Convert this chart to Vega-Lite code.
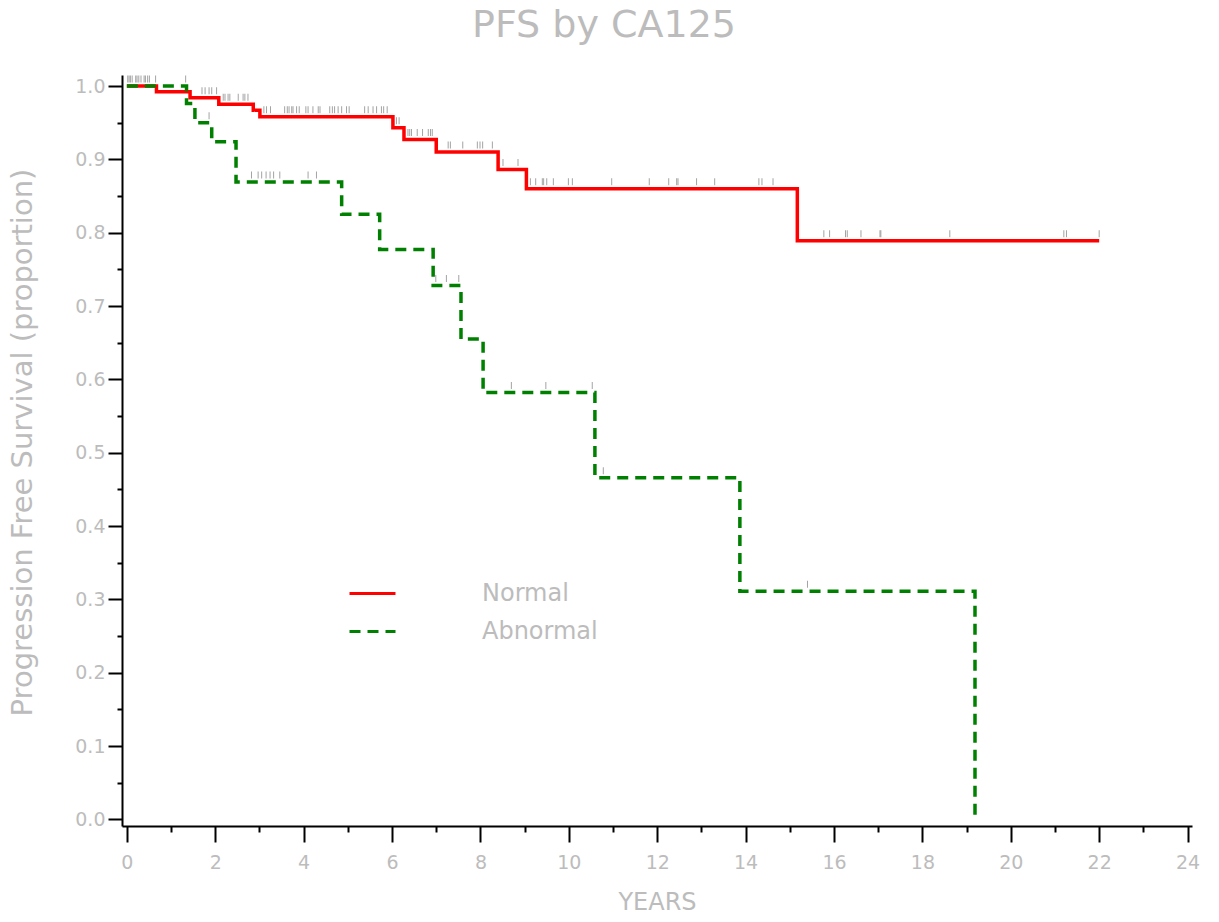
{
  "$schema": "https://vega.github.io/schema/vega-lite/v6.json",
  "width": 1070,
  "height": 751,
  "autosize": {"type": "none"},
  "padding": {"left": 122, "top": 75, "right": 27, "bottom": 96},
  "background": "white",
  "title": {
    "text": "PFS by CA125",
    "font": "DejaVu Sans",
    "fontSize": 38,
    "fontWeight": "normal",
    "color": "#bcbcbc",
    "anchor": "middle",
    "frame": "group",
    "dx": -53,
    "baseline": "alphabetic",
    "offset": 0
  },
  "config": {
    "view": {"stroke": null},
    "axis": {
      "grid": false,
      "labelFont": "DejaVu Sans",
      "labelFontSize": 19,
      "labelColor": "#bcbcbc",
      "titleFont": "DejaVu Sans",
      "titleFontWeight": "normal",
      "titleColor": "#bcbcbc",
      "domainColor": "black",
      "domainWidth": 2,
      "tickColor": "black",
      "tickWidth": 2
    },
    "legend": {
      "labelFont": "DejaVu Sans",
      "labelFontSize": 24,
      "labelColor": "#bcbcbc"
    }
  },
  "datasets": {
    "curves": [
      {"group": "Normal", "t": 0, "s": 1.0},
      {"group": "Normal", "t": 0.67, "s": 0.992},
      {"group": "Normal", "t": 1.43, "s": 0.984},
      {"group": "Normal", "t": 2.08, "s": 0.975},
      {"group": "Normal", "t": 2.86, "s": 0.967},
      {"group": "Normal", "t": 3.01, "s": 0.958},
      {"group": "Normal", "t": 6.02, "s": 0.943},
      {"group": "Normal", "t": 6.27, "s": 0.927},
      {"group": "Normal", "t": 7.0, "s": 0.91},
      {"group": "Normal", "t": 8.4, "s": 0.886},
      {"group": "Normal", "t": 9.04, "s": 0.86},
      {"group": "Normal", "t": 15.17, "s": 0.789},
      {"group": "Normal", "t": 22.0, "s": 0.789},
      {"group": "Abnormal", "t": 0, "s": 1.0},
      {"group": "Abnormal", "t": 1.35, "s": 0.976},
      {"group": "Abnormal", "t": 1.54, "s": 0.95},
      {"group": "Abnormal", "t": 1.92, "s": 0.924},
      {"group": "Abnormal", "t": 2.47, "s": 0.869},
      {"group": "Abnormal", "t": 4.86, "s": 0.825},
      {"group": "Abnormal", "t": 5.72, "s": 0.777},
      {"group": "Abnormal", "t": 6.93, "s": 0.728},
      {"group": "Abnormal", "t": 7.56, "s": 0.655},
      {"group": "Abnormal", "t": 8.06, "s": 0.582},
      {"group": "Abnormal", "t": 10.59, "s": 0.466},
      {"group": "Abnormal", "t": 13.87, "s": 0.311},
      {"group": "Abnormal", "t": 19.19, "s": 0.0}
    ],
    "censored": [
      {"group": "Normal", "t": 0.02, "s": 1.0},
      {"group": "Normal", "t": 0.05, "s": 1.0},
      {"group": "Normal", "t": 0.08, "s": 1.0},
      {"group": "Normal", "t": 0.12, "s": 1.0},
      {"group": "Normal", "t": 0.2, "s": 1.0},
      {"group": "Normal", "t": 0.23, "s": 1.0},
      {"group": "Normal", "t": 0.27, "s": 1.0},
      {"group": "Normal", "t": 0.32, "s": 1.0},
      {"group": "Normal", "t": 0.39, "s": 1.0},
      {"group": "Normal", "t": 0.42, "s": 1.0},
      {"group": "Normal", "t": 0.47, "s": 1.0},
      {"group": "Normal", "t": 0.51, "s": 1.0},
      {"group": "Normal", "t": 0.65, "s": 1.0},
      {"group": "Normal", "t": 1.7, "s": 0.984},
      {"group": "Normal", "t": 1.77, "s": 0.984},
      {"group": "Normal", "t": 1.86, "s": 0.984},
      {"group": "Normal", "t": 1.92, "s": 0.984},
      {"group": "Normal", "t": 2.03, "s": 0.984},
      {"group": "Normal", "t": 2.18, "s": 0.975},
      {"group": "Normal", "t": 2.22, "s": 0.975},
      {"group": "Normal", "t": 2.29, "s": 0.975},
      {"group": "Normal", "t": 2.33, "s": 0.975},
      {"group": "Normal", "t": 2.52, "s": 0.975},
      {"group": "Normal", "t": 2.63, "s": 0.975},
      {"group": "Normal", "t": 2.67, "s": 0.975},
      {"group": "Normal", "t": 2.74, "s": 0.975},
      {"group": "Normal", "t": 3.1, "s": 0.958},
      {"group": "Normal", "t": 3.16, "s": 0.958},
      {"group": "Normal", "t": 3.25, "s": 0.958},
      {"group": "Normal", "t": 3.57, "s": 0.958},
      {"group": "Normal", "t": 3.63, "s": 0.958},
      {"group": "Normal", "t": 3.67, "s": 0.958},
      {"group": "Normal", "t": 3.73, "s": 0.958},
      {"group": "Normal", "t": 3.76, "s": 0.958},
      {"group": "Normal", "t": 3.84, "s": 0.958},
      {"group": "Normal", "t": 3.9, "s": 0.958},
      {"group": "Normal", "t": 4.05, "s": 0.958},
      {"group": "Normal", "t": 4.1, "s": 0.958},
      {"group": "Normal", "t": 4.21, "s": 0.958},
      {"group": "Normal", "t": 4.33, "s": 0.958},
      {"group": "Normal", "t": 4.37, "s": 0.958},
      {"group": "Normal", "t": 4.59, "s": 0.958},
      {"group": "Normal", "t": 4.65, "s": 0.958},
      {"group": "Normal", "t": 4.7, "s": 0.958},
      {"group": "Normal", "t": 4.78, "s": 0.958},
      {"group": "Normal", "t": 4.86, "s": 0.958},
      {"group": "Normal", "t": 4.97, "s": 0.958},
      {"group": "Normal", "t": 5.03, "s": 0.958},
      {"group": "Normal", "t": 5.38, "s": 0.958},
      {"group": "Normal", "t": 5.46, "s": 0.958},
      {"group": "Normal", "t": 5.57, "s": 0.958},
      {"group": "Normal", "t": 5.65, "s": 0.958},
      {"group": "Normal", "t": 5.76, "s": 0.958},
      {"group": "Normal", "t": 5.81, "s": 0.958},
      {"group": "Normal", "t": 5.89, "s": 0.958},
      {"group": "Normal", "t": 6.1, "s": 0.943},
      {"group": "Normal", "t": 6.16, "s": 0.943},
      {"group": "Normal", "t": 6.36, "s": 0.927},
      {"group": "Normal", "t": 6.4, "s": 0.927},
      {"group": "Normal", "t": 6.44, "s": 0.927},
      {"group": "Normal", "t": 6.57, "s": 0.927},
      {"group": "Normal", "t": 6.69, "s": 0.927},
      {"group": "Normal", "t": 6.82, "s": 0.927},
      {"group": "Normal", "t": 6.87, "s": 0.927},
      {"group": "Normal", "t": 6.91, "s": 0.927},
      {"group": "Normal", "t": 7.27, "s": 0.91},
      {"group": "Normal", "t": 7.32, "s": 0.91},
      {"group": "Normal", "t": 7.6, "s": 0.91},
      {"group": "Normal", "t": 7.93, "s": 0.91},
      {"group": "Normal", "t": 7.99, "s": 0.91},
      {"group": "Normal", "t": 8.05, "s": 0.91},
      {"group": "Normal", "t": 8.27, "s": 0.91},
      {"group": "Normal", "t": 8.51, "s": 0.886},
      {"group": "Normal", "t": 8.85, "s": 0.886},
      {"group": "Normal", "t": 9.13, "s": 0.86},
      {"group": "Normal", "t": 9.25, "s": 0.86},
      {"group": "Normal", "t": 9.4, "s": 0.86},
      {"group": "Normal", "t": 9.43, "s": 0.86},
      {"group": "Normal", "t": 9.5, "s": 0.86},
      {"group": "Normal", "t": 9.65, "s": 0.86},
      {"group": "Normal", "t": 9.99, "s": 0.86},
      {"group": "Normal", "t": 10.08, "s": 0.86},
      {"group": "Normal", "t": 10.97, "s": 0.86},
      {"group": "Normal", "t": 11.82, "s": 0.86},
      {"group": "Normal", "t": 12.26, "s": 0.86},
      {"group": "Normal", "t": 12.44, "s": 0.86},
      {"group": "Normal", "t": 12.47, "s": 0.86},
      {"group": "Normal", "t": 12.89, "s": 0.86},
      {"group": "Normal", "t": 13.3, "s": 0.86},
      {"group": "Normal", "t": 14.3, "s": 0.86},
      {"group": "Normal", "t": 14.37, "s": 0.86},
      {"group": "Normal", "t": 14.62, "s": 0.86},
      {"group": "Normal", "t": 15.77, "s": 0.789},
      {"group": "Normal", "t": 15.9, "s": 0.789},
      {"group": "Normal", "t": 16.26, "s": 0.789},
      {"group": "Normal", "t": 16.3, "s": 0.789},
      {"group": "Normal", "t": 16.61, "s": 0.789},
      {"group": "Normal", "t": 17.04, "s": 0.789},
      {"group": "Normal", "t": 17.06, "s": 0.789},
      {"group": "Normal", "t": 18.62, "s": 0.789},
      {"group": "Normal", "t": 21.2, "s": 0.789},
      {"group": "Normal", "t": 21.26, "s": 0.789},
      {"group": "Normal", "t": 22.0, "s": 0.789},
      {"group": "Abnormal", "t": 1.33, "s": 1.0},
      {"group": "Abnormal", "t": 1.86, "s": 0.95},
      {"group": "Abnormal", "t": 2.82, "s": 0.869},
      {"group": "Abnormal", "t": 2.97, "s": 0.869},
      {"group": "Abnormal", "t": 3.05, "s": 0.869},
      {"group": "Abnormal", "t": 3.15, "s": 0.869},
      {"group": "Abnormal", "t": 3.24, "s": 0.869},
      {"group": "Abnormal", "t": 3.32, "s": 0.869},
      {"group": "Abnormal", "t": 3.46, "s": 0.869},
      {"group": "Abnormal", "t": 4.1, "s": 0.869},
      {"group": "Abnormal", "t": 4.29, "s": 0.869},
      {"group": "Abnormal", "t": 6.99, "s": 0.728},
      {"group": "Abnormal", "t": 7.23, "s": 0.728},
      {"group": "Abnormal", "t": 7.51, "s": 0.728},
      {"group": "Abnormal", "t": 8.7, "s": 0.582},
      {"group": "Abnormal", "t": 9.48, "s": 0.582},
      {"group": "Abnormal", "t": 10.53, "s": 0.582},
      {"group": "Abnormal", "t": 10.78, "s": 0.466},
      {"group": "Abnormal", "t": 15.4, "s": 0.311}
    ]
  },
  "resolve": {"axis": {"x": "independent", "y": "independent"}},
  "layer": [
    {
      "data": {"name": "censored"},
      "mark": {"type": "tick", "orient": "vertical", "opacity": 0},
      "encoding": {
        "x": {
          "field": "t",
          "type": "quantitative",
          "scale": {"domain": [-0.11, 24.1], "nice": false, "zero": false},
          "axis": {
            "orient": "bottom",
            "values": [1, 3, 5, 7, 9, 11, 13, 15, 17, 19, 21, 23],
            "ticks": true,
            "tickSize": 6,
            "labels": false,
            "domain": false,
            "title": null
          }
        },
        "y": {
          "field": "s",
          "type": "quantitative",
          "scale": {"domain": [-0.009, 1.015], "nice": false, "zero": false},
          "axis": {
            "orient": "left",
            "values": [0.05, 0.15, 0.25, 0.35, 0.45, 0.55, 0.65, 0.75, 0.85, 0.95],
            "ticks": true,
            "tickSize": 5,
            "labels": false,
            "domain": false,
            "title": null
          }
        }
      }
    },
    {
      "data": {"name": "curves"},
      "mark": {"type": "line", "interpolate": "step-after", "strokeWidth": 3.5},
      "encoding": {
        "x": {
          "field": "t",
          "type": "quantitative",
          "axis": {
            "orient": "bottom",
            "values": [0, 2, 4, 6, 8, 10, 12, 14, 16, 18, 20, 22, 24],
            "ticks": true,
            "tickSize": 16,
            "labelPadding": 11,
            "offset": 0,
            "title": "YEARS",
            "titleFontSize": 24,
            "titleY": 76,
            "titleBaseline": "middle"
          }
        },
        "y": {
          "field": "s",
          "type": "quantitative",
          "axis": {
            "orient": "left",
            "values": [0, 0.1, 0.2, 0.3, 0.4, 0.5, 0.6, 0.7, 0.8, 0.9, 1.0],
            "format": ".1f",
            "ticks": true,
            "tickSize": 14,
            "labelPadding": 3,
            "offset": 0,
            "title": "Progression Free Survival (proportion)",
            "titleFontSize": 29,
            "titleAngle": -90,
            "titleX": -100,
            "titleY": 367,
            "titleAlign": "center",
            "titleBaseline": "middle"
          }
        },
        "color": {
          "field": "group",
          "type": "nominal",
          "scale": {"domain": ["Normal", "Abnormal"], "range": ["#ff0000", "#008000"]},
          "legend": {
            "title": null,
            "orient": "none",
            "legendX": 226,
            "legendY": 494,
            "padding": 0,
            "symbolType": "stroke",
            "symbolSize": 2116,
            "symbolStrokeWidth": 3,
            "labelOffset": 85,
            "rowPadding": 1
          }
        },
        "strokeDash": {
          "field": "group",
          "type": "nominal",
          "scale": {"domain": ["Normal", "Abnormal"], "range": [[1, 0], [11, 7]]},
          "legend": {
            "title": null,
            "orient": "none",
            "legendX": 226,
            "legendY": 494,
            "padding": 0,
            "symbolType": "stroke",
            "symbolSize": 2116,
            "symbolStrokeWidth": 3,
            "labelOffset": 85,
            "rowPadding": 1
          }
        }
      }
    },
    {
      "data": {"name": "censored"},
      "mark": {"type": "tick", "orient": "vertical", "size": 7, "thickness": 1, "yOffset": -7, "color": "#8c8c8c", "opacity": 0.8},
      "encoding": {
        "x": {"field": "t", "type": "quantitative", "axis": null},
        "y": {"field": "s", "type": "quantitative", "axis": null}
      }
    }
  ]
}
